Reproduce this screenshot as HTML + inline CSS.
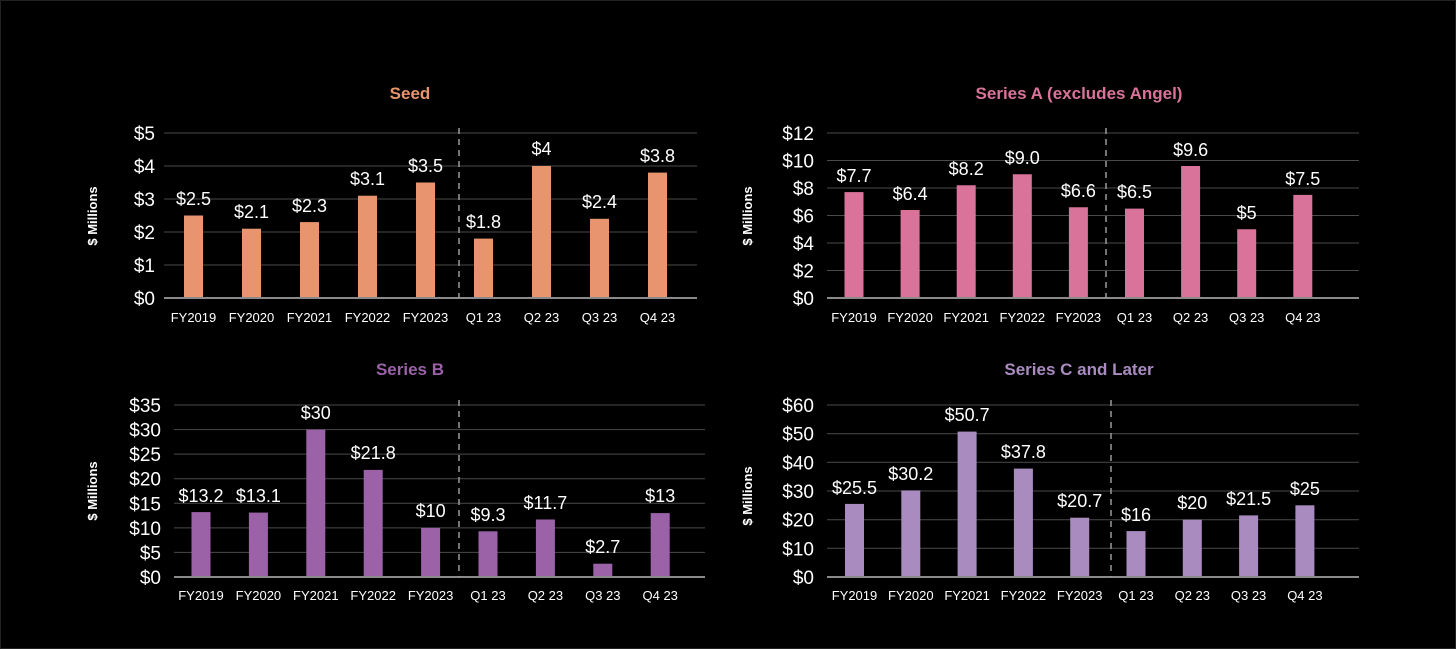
<!DOCTYPE html>
<html><head><meta charset="utf-8"><style>
html,body{margin:0;padding:0;background:#000;}
svg{display:block;font-family:"Liberation Sans",Arial,sans-serif;}
.g{stroke:#4a4a4a;stroke-width:1}
.b{stroke:#8a8a8a;stroke-width:2}
.d{stroke:#9a9a9a;stroke-width:1.5;stroke-dasharray:6,5}
.yt{fill:#fff;font-size:19px;text-anchor:end}
.v{fill:#fff;font-size:18px;text-anchor:middle}
.x{fill:#fff;font-size:13px;text-anchor:middle}
.m{fill:#fff;font-size:13px;font-weight:bold;text-anchor:middle}
.t{font-size:17px;font-weight:bold;text-anchor:middle}
</style></head><body>
<svg width="1456" height="649" viewBox="0 0 1456 649">
<rect width="1456" height="649" fill="#000"/>
<rect x="0.5" y="0.5" width="1455" height="648" fill="none" stroke="#222"/>

<!-- Seed -->
<text class="t" x="410" y="99" fill="#E8956F">Seed</text>
<g>
<line class="g" x1="164" x2="697" y1="133" y2="133"/><line class="g" x1="164" x2="697" y1="166" y2="166"/><line class="g" x1="164" x2="697" y1="199" y2="199"/><line class="g" x1="164" x2="697" y1="232" y2="232"/><line class="g" x1="164" x2="697" y1="265" y2="265"/>
<text class="yt" x="155" y="140">$5</text><text class="yt" x="155" y="173">$4</text><text class="yt" x="155" y="206">$3</text><text class="yt" x="155" y="239">$2</text><text class="yt" x="155" y="272">$1</text><text class="yt" x="155" y="305">$0</text>
<text class="m" transform="translate(97,216) rotate(-90)">$ Millions</text>
<g fill="#E8956F">
<rect x="184" y="215.5" width="19" height="82.5"/><rect x="242" y="228.7" width="19" height="69.3"/><rect x="300" y="222.1" width="19" height="75.9"/><rect x="358" y="195.7" width="19" height="102.3"/><rect x="416" y="182.5" width="19" height="115.5"/><rect x="474" y="238.6" width="19" height="59.4"/><rect x="532" y="166" width="19" height="132"/><rect x="590" y="218.8" width="19" height="79.2"/><rect x="648" y="172.6" width="19" height="125.4"/>
</g>
<line class="b" x1="164" x2="697" y1="298" y2="298"/>
<line class="d" x1="459" x2="459" y1="128" y2="298"/>
<text class="v" x="193.5" y="205">$2.5</text><text class="v" x="251.5" y="218">$2.1</text><text class="v" x="309.5" y="212">$2.3</text><text class="v" x="367.5" y="185">$3.1</text><text class="v" x="425.5" y="172">$3.5</text><text class="v" x="483.5" y="228">$1.8</text><text class="v" x="541.5" y="155">$4</text><text class="v" x="599.5" y="208">$2.4</text><text class="v" x="657.5" y="162">$3.8</text>
<text class="x" x="193.5" y="322">FY2019</text><text class="x" x="251.5" y="322">FY2020</text><text class="x" x="309.5" y="322">FY2021</text><text class="x" x="367.5" y="322">FY2022</text><text class="x" x="425.5" y="322">FY2023</text><text class="x" x="483.5" y="322">Q1 23</text><text class="x" x="541.5" y="322">Q2 23</text><text class="x" x="599.5" y="322">Q3 23</text><text class="x" x="657.5" y="322">Q4 23</text>
</g>

<!-- Series A -->
<text class="t" x="1079" y="99" fill="#D9739A">Series A (excludes Angel)</text>
<g>
<line class="g" x1="827" x2="1359" y1="133" y2="133"/><line class="g" x1="827" x2="1359" y1="160.5" y2="160.5"/><line class="g" x1="827" x2="1359" y1="188" y2="188"/><line class="g" x1="827" x2="1359" y1="215.5" y2="215.5"/><line class="g" x1="827" x2="1359" y1="243" y2="243"/><line class="g" x1="827" x2="1359" y1="270.5" y2="270.5"/>
<text class="yt" x="814" y="140">$12</text><text class="yt" x="814" y="167.5">$10</text><text class="yt" x="814" y="195">$8</text><text class="yt" x="814" y="222.5">$6</text><text class="yt" x="814" y="250">$4</text><text class="yt" x="814" y="277.5">$2</text><text class="yt" x="814" y="305">$0</text>
<text class="m" transform="translate(752,216) rotate(-90)">$ Millions</text>
<g fill="#D9739A">
<rect x="844.5" y="192.1" width="19" height="105.9"/><rect x="900.6" y="210" width="19" height="88"/><rect x="956.7" y="185.25" width="19" height="112.75"/><rect x="1012.8" y="174.25" width="19" height="123.75"/><rect x="1068.9" y="207.25" width="19" height="90.75"/><rect x="1125" y="208.6" width="19" height="89.4"/><rect x="1181.1" y="166" width="19" height="132"/><rect x="1237.2" y="229.25" width="19" height="68.75"/><rect x="1293.3" y="194.9" width="19" height="103.1"/>
</g>
<line class="b" x1="827" x2="1359" y1="298" y2="298"/>
<line class="d" x1="1106" x2="1106" y1="128" y2="298"/>
<text class="v" x="854" y="182">$7.7</text><text class="v" x="910.1" y="200">$6.4</text><text class="v" x="966.2" y="175">$8.2</text><text class="v" x="1022.3" y="164">$9.0</text><text class="v" x="1078.4" y="197">$6.6</text><text class="v" x="1134.5" y="198">$6.5</text><text class="v" x="1190.6" y="156">$9.6</text><text class="v" x="1246.7" y="219">$5</text><text class="v" x="1302.8" y="185">$7.5</text>
<text class="x" x="854" y="322">FY2019</text><text class="x" x="910.1" y="322">FY2020</text><text class="x" x="966.2" y="322">FY2021</text><text class="x" x="1022.3" y="322">FY2022</text><text class="x" x="1078.4" y="322">FY2023</text><text class="x" x="1134.5" y="322">Q1 23</text><text class="x" x="1190.6" y="322">Q2 23</text><text class="x" x="1246.7" y="322">Q3 23</text><text class="x" x="1302.8" y="322">Q4 23</text>
</g>

<!-- Series B -->
<text class="t" x="410" y="375" fill="#9B62A8">Series B</text>
<g>
<line class="g" x1="174" x2="705" y1="405" y2="405"/><line class="g" x1="174" x2="705" y1="429.6" y2="429.6"/><line class="g" x1="174" x2="705" y1="454.1" y2="454.1"/><line class="g" x1="174" x2="705" y1="478.7" y2="478.7"/><line class="g" x1="174" x2="705" y1="503.3" y2="503.3"/><line class="g" x1="174" x2="705" y1="527.9" y2="527.9"/><line class="g" x1="174" x2="705" y1="552.4" y2="552.4"/>
<text class="yt" x="161" y="412">$35</text><text class="yt" x="161" y="436.6">$30</text><text class="yt" x="161" y="461.1">$25</text><text class="yt" x="161" y="485.7">$20</text><text class="yt" x="161" y="510.3">$15</text><text class="yt" x="161" y="534.9">$10</text><text class="yt" x="161" y="559.4">$5</text><text class="yt" x="161" y="584">$0</text>
<text class="m" transform="translate(97,491) rotate(-90)">$ Millions</text>
<g fill="#9B62A8">
<rect x="191.5" y="512.1" width="19" height="64.9"/><rect x="248.9" y="512.6" width="19" height="64.4"/><rect x="306.3" y="429.6" width="19" height="147.4"/><rect x="363.7" y="469.9" width="19" height="107.1"/><rect x="421.1" y="527.9" width="19" height="49.1"/><rect x="478.5" y="531.3" width="19" height="45.7"/><rect x="535.9" y="519.5" width="19" height="57.5"/><rect x="593.3" y="563.7" width="19" height="13.3"/><rect x="650.7" y="513.1" width="19" height="63.9"/>
</g>
<line class="b" x1="174" x2="705" y1="577" y2="577"/>
<line class="d" x1="459" x2="459" y1="400" y2="577"/>
<text class="v" x="201" y="502">$13.2</text><text class="v" x="258.4" y="502">$13.1</text><text class="v" x="315.8" y="419">$30</text><text class="v" x="373.2" y="459">$21.8</text><text class="v" x="430.6" y="517">$10</text><text class="v" x="488" y="521">$9.3</text><text class="v" x="545.4" y="509">$11.7</text><text class="v" x="602.8" y="553">$2.7</text><text class="v" x="660.2" y="502">$13</text>
<text class="x" x="201" y="600">FY2019</text><text class="x" x="258.4" y="600">FY2020</text><text class="x" x="315.8" y="600">FY2021</text><text class="x" x="373.2" y="600">FY2022</text><text class="x" x="430.6" y="600">FY2023</text><text class="x" x="488" y="600">Q1 23</text><text class="x" x="545.4" y="600">Q2 23</text><text class="x" x="602.8" y="600">Q3 23</text><text class="x" x="660.2" y="600">Q4 23</text>
</g>

<!-- Series C -->
<text class="t" x="1079" y="375" fill="#A98BC0">Series C and Later</text>
<g>
<line class="g" x1="827" x2="1359" y1="405" y2="405"/><line class="g" x1="827" x2="1359" y1="433.7" y2="433.7"/><line class="g" x1="827" x2="1359" y1="462.3" y2="462.3"/><line class="g" x1="827" x2="1359" y1="491" y2="491"/><line class="g" x1="827" x2="1359" y1="519.7" y2="519.7"/><line class="g" x1="827" x2="1359" y1="548.3" y2="548.3"/>
<text class="yt" x="814" y="412">$60</text><text class="yt" x="814" y="440.7">$50</text><text class="yt" x="814" y="469.3">$40</text><text class="yt" x="814" y="498">$30</text><text class="yt" x="814" y="526.7">$20</text><text class="yt" x="814" y="555.3">$10</text><text class="yt" x="814" y="584">$0</text>
<text class="m" transform="translate(752,496) rotate(-90)">$ Millions</text>
<g fill="#A98BC0">
<rect x="845" y="503.9" width="19" height="73.1"/><rect x="901.3" y="490.4" width="19" height="86.6"/><rect x="957.6" y="431.6" width="19" height="145.4"/><rect x="1013.9" y="468.6" width="19" height="108.4"/><rect x="1070.2" y="517.7" width="19" height="59.3"/><rect x="1126.5" y="531.1" width="19" height="45.9"/><rect x="1182.8" y="519.7" width="19" height="57.3"/><rect x="1239.1" y="515.4" width="19" height="61.6"/><rect x="1295.4" y="505.3" width="19" height="71.7"/>
</g>
<line class="b" x1="827" x2="1359" y1="577" y2="577"/>
<line class="d" x1="1111" x2="1111" y1="400" y2="577"/>
<text class="v" x="854.5" y="494">$25.5</text><text class="v" x="910.8" y="480">$30.2</text><text class="v" x="967.1" y="421">$50.7</text><text class="v" x="1023.4" y="458">$37.8</text><text class="v" x="1079.7" y="507">$20.7</text><text class="v" x="1136" y="521">$16</text><text class="v" x="1192.3" y="509">$20</text><text class="v" x="1248.6" y="505">$21.5</text><text class="v" x="1304.9" y="495">$25</text>
<text class="x" x="854.5" y="600">FY2019</text><text class="x" x="910.8" y="600">FY2020</text><text class="x" x="967.1" y="600">FY2021</text><text class="x" x="1023.4" y="600">FY2022</text><text class="x" x="1079.7" y="600">FY2023</text><text class="x" x="1136" y="600">Q1 23</text><text class="x" x="1192.3" y="600">Q2 23</text><text class="x" x="1248.6" y="600">Q3 23</text><text class="x" x="1304.9" y="600">Q4 23</text>
</g>
</svg>
</body></html>
